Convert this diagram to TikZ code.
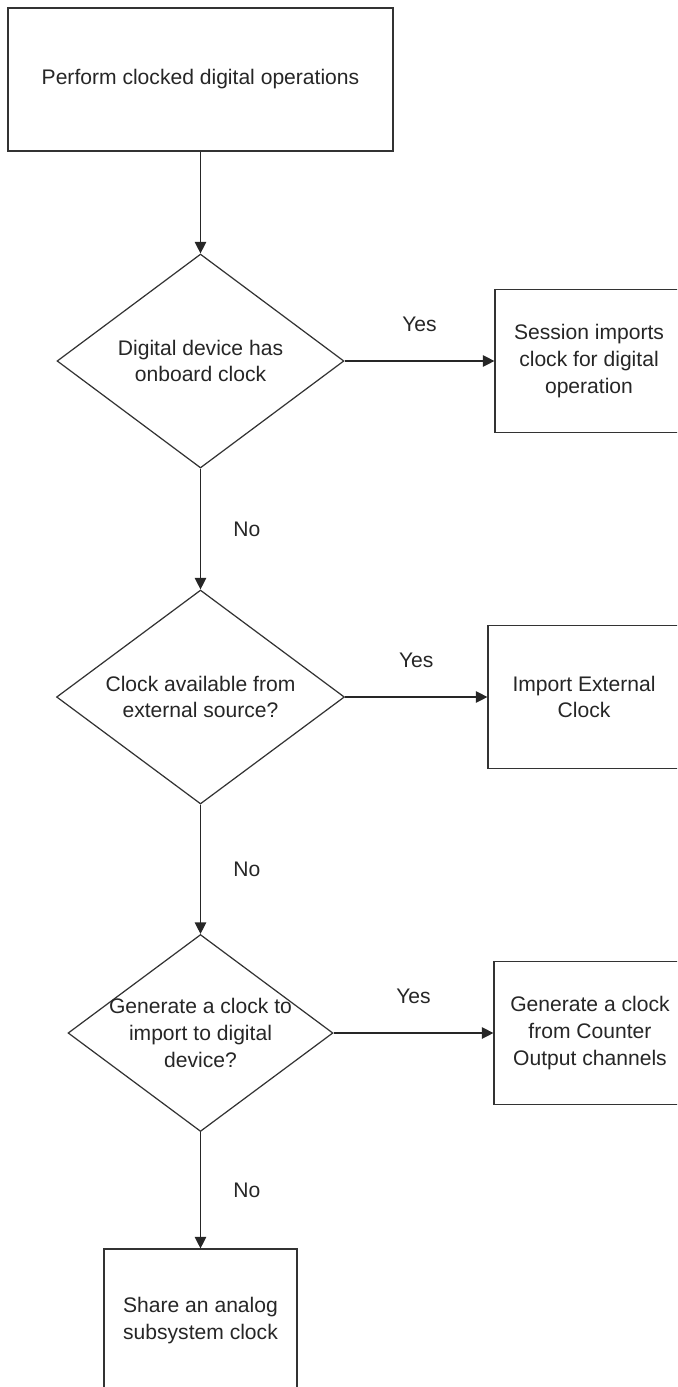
\documentclass[tikz,border=0pt]{standalone}
\usepackage{fontspec}
\setmainfont{Liberation Sans}
\usetikzlibrary{shapes.geometric}
\usetikzlibrary{arrows.meta}
\usetikzlibrary{positioning}

\begin{document}
\begin{tikzpicture}[
            x=0.02cm, y=-0.02cm,
            font=\fontsize{12}{15.3}\selectfont,
            box node/.style={rectangle, draw=black!80, line width=0.7pt, text=black!85, align=center, minimum height=2.86cm, inner sep=2pt},
            decision node/.style={diamond, aspect=1.34, draw=black!80, line width=0.7pt, text=black!85, align=center, inner sep=0pt},
            flow/.style={draw=black!85, line width=0.7pt, -{Triangle[length=6.5pt,width=6.5pt]}},
            answer/.style={text=black!85},
            ]
            \useasboundingbox (0,0) rectangle (677,1387);
            \clip (0,0) rectangle (677,1387);

            \node[box node, minimum width=7.7cm] (1) at (200.5,79.5) {Perform clocked digital operations};
            \node[decision node, minimum width=5.74cm, minimum height=4.28cm] (2) at (200.5,361) {Digital device has\\onboard clock};
            \node[box node, minimum width=3.76cm] (3) at (589,361) {Session imports\\clock for digital\\operation};
            \node[decision node, minimum width=5.76cm, minimum height=4.28cm] (4) at (200.5,697) {Clock available from\\external source?};
            \node[box node, minimum width=3.84cm] (5) at (584,697) {Import External\\Clock};
            \node[decision node, minimum width=5.3cm, minimum height=3.94cm, inner sep=-4pt] (6) at (200.5,1033) {Generate a clock to\\import to digital\\device?};
            \node[box node, minimum width=3.84cm] (7) at (590,1033) {Generate a clock\\from Counter\\Output channels};
            \node[box node, minimum width=3.86cm] (8) at (200.5,1320.5) {Share an analog\\subsystem clock};

            \draw[flow] (1) -- (2);
            \draw[flow] (2) -- node[answer, above=13pt] {Yes} (3);
            \draw[flow] (2) -- node[answer, right=15pt] {No} (4);
            \draw[flow] (4) -- node[answer, above=13pt] {Yes} (5);
            \draw[flow] (4) -- node[answer, right=15pt] {No} (6);
            \draw[flow] (6) -- node[answer, above=13pt] {Yes} (7);
            \draw[flow] (6) -- node[answer, right=15pt] {No} (8);
        \end{tikzpicture}
\end{document}
